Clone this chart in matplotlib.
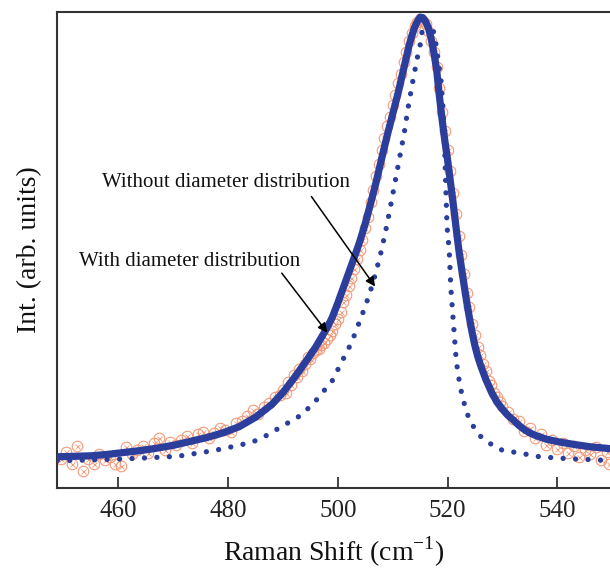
import matplotlib
matplotlib.use("Agg")
import matplotlib.pyplot as plt

plt.rcParams['font.family'] = ['Liberation Serif', 'DejaVu Serif']
plt.rcParams['mathtext.fontset'] = 'custom'
plt.rcParams['mathtext.rm'] = 'Liberation Serif'

# ---- experimental data (open circles) ----
x_exp = [449.5, 450.5, 451.5, 452.5, 453.5, 454.5, 455.5, 456.5, 457.5, 458.5,
         459.5, 460.5, 461.5, 462.5, 463.5, 464.5, 465.5, 466.5, 467.5, 468.5,
         469.5, 470.5, 471.5, 472.5, 473.5, 474.5, 475.5, 476.5, 477.5, 478.5,
         479.5, 480.5, 481.5, 482.5, 483.5, 484.5, 485.5, 486.5, 487.5, 488.5,
         489.5,
         490, 490.5, 491, 491.5, 492, 492.5, 493, 493.5, 494, 494.5,
         495, 495.5, 496, 496.5, 497, 497.5, 498, 498.5, 499, 499.5,
         500, 500.5, 501, 501.5, 502, 502.5, 503, 503.5, 504, 504.5,
         505, 505.5, 506, 506.5, 507, 507.5, 508, 508.5, 509, 509.5,
         510, 510.5, 511, 511.5, 512, 512.5, 513, 513.5, 514, 514.5,
         515, 515.5, 516, 516.5, 517, 517.5, 518, 518.5, 519, 519.5,
         520, 520.5, 521, 521.5, 522, 522.5, 523, 523.5, 524, 524.5,
         525, 525.5, 526, 526.5, 527, 527.5, 528, 528.5, 529, 529.5,
         530, 531, 532, 533, 534, 535, 536, 537, 538, 539, 540, 541, 542,
         543, 544, 545, 546, 547, 548, 549, 549.5]
y_exp = [0.060, 0.075, 0.050, 0.088, 0.035, 0.060, 0.050, 0.070, 0.058, 0.065,
         0.050, 0.045, 0.085, 0.070, 0.080, 0.088, 0.072, 0.095, 0.104, 0.080,
         0.097, 0.090, 0.100, 0.108, 0.095, 0.112, 0.118, 0.105, 0.115, 0.125,
         0.122, 0.118, 0.135, 0.140, 0.150, 0.163, 0.155, 0.170, 0.178, 0.190,
         0.195,
         0.205, 0.200, 0.222, 0.215, 0.236, 0.232, 0.250, 0.245, 0.260, 0.275,
         0.270, 0.283, 0.290, 0.292, 0.300, 0.305, 0.313, 0.320, 0.330, 0.345,
         0.355, 0.370, 0.390, 0.405, 0.425, 0.440, 0.460, 0.480, 0.500, 0.520,
         0.545, 0.570, 0.600, 0.625, 0.655, 0.680, 0.710, 0.735, 0.760, 0.780,
         0.805, 0.825, 0.850, 0.870, 0.895, 0.915, 0.940, 0.955, 0.970, 0.978,
         0.985, 0.982, 0.975, 0.960, 0.940, 0.915, 0.885, 0.840, 0.790, 0.750,
         0.710, 0.665, 0.620, 0.575, 0.530, 0.490, 0.450, 0.410, 0.380, 0.345,
         0.320, 0.295, 0.280, 0.260, 0.245, 0.225, 0.215, 0.200, 0.190, 0.180,
         0.172, 0.160, 0.145, 0.140, 0.120, 0.125, 0.105, 0.112, 0.090, 0.100,
         0.082, 0.095, 0.072, 0.088, 0.065, 0.080, 0.070, 0.085, 0.058, 0.075,
         0.050]

# ---- fit with diameter distribution (solid line) ----
x_with = [448.9, 452, 455, 458, 461, 464, 467, 470, 473, 476, 479, 482, 485,
          488, 490, 492, 494, 496, 498, 499, 500, 501, 502, 503, 504, 505,
          506, 507, 508, 509, 510, 511, 512, 513, 513.5, 514, 514.5, 515,
          515.5, 516, 516.5, 517, 517.5, 518, 518.5, 519, 519.5, 520, 520.5,
          521, 521.5, 522, 522.5, 523, 523.5, 524, 524.5, 525, 525.5, 526,
          527, 528, 529, 530, 531, 532, 533, 534, 535, 536, 537, 538, 540,
          543, 546, 549.7]
y_with = [0.065, 0.066, 0.067, 0.070, 0.074, 0.078, 0.083, 0.089, 0.097, 0.105,
          0.115, 0.128, 0.148, 0.175, 0.200, 0.230, 0.262, 0.296, 0.335, 0.358,
          0.388, 0.420, 0.452, 0.484, 0.517, 0.555, 0.598, 0.643, 0.692, 0.740,
          0.785, 0.830, 0.880, 0.930, 0.950, 0.968, 0.980, 0.989, 0.988, 0.980,
          0.967, 0.945, 0.915, 0.880, 0.825, 0.775, 0.730, 0.690, 0.645, 0.600,
          0.552, 0.505, 0.465, 0.427, 0.390, 0.356, 0.325, 0.298, 0.276, 0.258,
          0.227, 0.201, 0.180, 0.165, 0.152, 0.142, 0.131, 0.122, 0.115, 0.110,
          0.106, 0.102, 0.097, 0.091, 0.086, 0.082]

# ---- fit without diameter distribution (dotted line) ----
x_without = [448.9, 450.65, 457.3, 464.0, 470.8, 477.4, 479.9, 484.2, 486.3,
             493.1, 495.5, 499.0, 502.5, 503.4, 505.1, 506.4, 507.7, 508.7,
             509.6, 510.4, 511.3, 512.1, 512.8, 513.6, 514.4, 515.0, 515.6,
             516.8, 517.6, 518.1, 518.8, 519.2, 519.5, 519.9, 520.3, 520.6,
             521.1, 521.6, 522.3, 523.4, 524.4, 525.9, 528.1, 530.1, 532.6,
             536.8, 541.8, 546.1, 549.7]
y_without = [0.057, 0.057, 0.059, 0.062, 0.066, 0.078, 0.084, 0.095, 0.105,
             0.151, 0.176, 0.225, 0.305, 0.332, 0.384, 0.430, 0.486, 0.538,
             0.591, 0.640, 0.696, 0.745, 0.798, 0.850, 0.899, 0.930, 0.978,
             0.973, 0.955, 0.915, 0.857, 0.794, 0.704, 0.550, 0.500, 0.420,
             0.342, 0.265, 0.212, 0.160, 0.134, 0.109, 0.090, 0.078, 0.074,
             0.065, 0.061, 0.059, 0.057]

label_without = "Without diameter distribution"
label_with = "With diameter distribution"
x_ticks = [460, 480, 500, 520, 540]

blue = '#2b3e9c'
orange = '#f39a78'

fig = plt.figure(figsize=(6.10, 5.73), dpi=100)
ax = fig.add_axes([57.3 / 610, 1 - 487.7 / 573, 1 - 57.3 / 610, (487.7 - 12) / 573])

ax.plot(x_exp, y_exp, linestyle='none', marker='o', markersize=7.6,
        markerfacecolor='none', markeredgecolor=orange, markeredgewidth=0.8,
        zorder=2)
ax.plot(x_exp, y_exp, linestyle='none', marker='x', markersize=3.6,
        markeredgecolor=orange, markeredgewidth=0.6, zorder=2)

ax.plot(x_without, y_without, color=blue, linewidth=3.8,
        linestyle=(0, (0.01, 2.35)), dash_capstyle='round', zorder=3)
ax.plot(x_with, y_with, color=blue, linewidth=5.2, solid_capstyle='round',
        solid_joinstyle='round', zorder=4)

ax.set_xlim(448.9, 549.6)
ax.set_ylim(0, 1.0)
ax.set_xticks(x_ticks)
ax.set_yticks([])
ax.tick_params(axis='x', direction='in', length=8, width=1.2, labelsize=18,
               pad=9, colors='#222222')
for s in ['left', 'bottom', 'top']:
    ax.spines[s].set_linewidth(1.5)
    ax.spines[s].set_color('#333333')
ax.spines['right'].set_visible(False)

ax.set_xlabel("Raman Shift (cm$^{\\mathregular{-1}}$)", fontsize=20, labelpad=9,
              color='#111111')
ax.set_ylabel("Int. (arb. units)", fontsize=20, labelpad=11, color='#111111')

ax.text(457.0, 0.641, label_without, fontsize=15, va='center', ha='left',
        color='#111111', zorder=5)
ax.text(452.9, 0.475, label_with, fontsize=15, va='center', ha='left',
        color='#111111', zorder=5)

arrow_props = dict(arrowstyle='-|>', color='black', lw=1.1, mutation_scale=14,
                   shrinkA=0, shrinkB=0)
ax.annotate("", xy=(506.8, 0.423), xytext=(495.2, 0.612),
            arrowprops=arrow_props, zorder=5)
ax.annotate("", xy=(498.1, 0.326), xytext=(489.8, 0.451),
            arrowprops=arrow_props, zorder=5)

fig.savefig("out.png", dpi=100)
